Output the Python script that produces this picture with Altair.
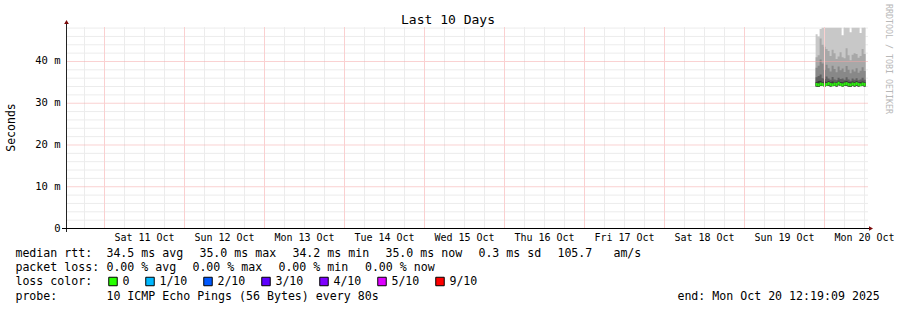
import altair as alt
import pandas as pd

# ---------------- data ----------------
T_START = "2025-10-10T12:19:09Z"
T_END = "2025-10-20T12:19:09Z"
Y_MAX = 48.14

day_dates = ["2025-10-11", "2025-10-12", "2025-10-13", "2025-10-14", "2025-10-15",
             "2025-10-16", "2025-10-17", "2025-10-18", "2025-10-19", "2025-10-20"]
day_labels = ["Sat 11 Oct", "Sun 12 Oct", "Mon 13 Oct", "Tue 14 Oct", "Wed 15 Oct",
              "Thu 16 Oct", "Fri 17 Oct", "Sat 18 Oct", "Sun 19 Oct", "Mon 20 Oct"]

y_ticks = [0, 10, 20, 30, 40]
y_tick_labels = ["0\u00a0\u00a0", "10 m", "20 m", "30 m", "40 m"]

# smoke buckets (36 min each) starting Oct 19 21:20 UTC
bucket_start = "2025-10-19T21:20:00Z"
bucket_minutes = 36
smoke_max = [46.5, 46.0, 47.8, 48.1, 48.1, 48.1, 48.1, 48.1, 48.1, 48.1, 48.1, 48.1, 48.1,
             46.3, 48.1, 48.1, 48.1, 47.0, 48.1, 48.1, 48.1, 48.1, 46.8, 48.1, 48.1]
smoke_p2 = [41.0, 41.5, 45.5, 44.0, 43.5, 43.0, 42.5, 41.3, 42.8, 42.0, 40.6, 41.2, 42.2,
            41.0, 40.8, 43.2, 41.5, 40.3, 41.6, 42.0, 41.8, 40.9, 41.3, 43.0, 41.8]
smoke_p3 = [38.5, 39.0, 40.5, 39.5, 38.0, 39.2, 38.4, 37.6, 39.0, 38.2, 37.4, 38.8, 37.9,
            38.3, 37.5, 38.9, 38.0, 37.2, 38.1, 37.6, 38.4, 37.3, 37.8, 38.6, 37.7]
smoke_p4 = [36.2, 36.5, 36.9, 36.0, 35.8, 36.4, 35.9, 35.6, 36.3, 35.7, 35.5, 36.1, 35.8,
            35.9, 35.6, 36.2, 35.7, 35.4, 35.9, 35.6, 36.0, 35.5, 35.7, 36.1, 35.6]
smoke_p5 = [35.1, 35.3, 35.4, 35.0, 35.2, 35.1, 35.3, 35.0, 35.2, 35.1, 35.0, 35.4, 35.1,
            35.0, 35.2, 35.3, 35.1, 35.0, 35.2, 35.1, 35.3, 35.0, 35.1, 35.2, 35.0]
smoke_min = [34.0, 33.9, 34.1, 34.2, 34.0, 34.1, 34.2, 34.0, 34.1, 34.2, 34.0, 34.3, 34.1,
             34.0, 34.1, 34.2, 34.0, 33.9, 34.1, 34.0, 34.2, 34.0, 34.1, 34.2, 34.0]
median_rtt = [34.5, 34.4, 34.6, 34.5, 34.4, 34.5, 34.7, 34.5, 34.4, 34.6, 34.5, 34.8, 34.5,
              34.4, 34.6, 34.7, 34.5, 34.4, 34.6, 34.5, 34.7, 34.5, 34.4, 34.6, 34.5]

# legend texts
row_texts = [
    ["median rtt:", "34.5 ms avg", "35.0 ms max", "34.2 ms min", "35.0 ms now",
     "0.3 ms sd", "105.7", "am/s"],
    ["packet loss:", "0.00 % avg", "0.00 % max", "0.00 % min", "0.00 % now"],
    ["loss color:"],
    ["probe:", "10 ICMP Echo Pings (56 Bytes) every 80s", "end: Mon Oct 20 12:19:09 2025"],
]
loss_labels = ["0", "1/10", "2/10", "3/10", "4/10", "5/10", "9/10"]
loss_colors = ["#26ff00", "#00b8ff", "#0059ff", "#5e00ff", "#7e00ff", "#dd00ff", "#ff0000"]

# ---------------- layout (pixels) ----------------
OX, OY = 66, 27
W, H = 800, 202
row_x = [
    [16, 107, 200, 293, 386, 479, 558, 614],
    [16, 107, 193, 279, 365.5],
    [16],
    [16, 107, 678],
]
row_y = [254, 268, 282, 296.5]
loss_box_x = [108, 145, 203, 261, 319, 377, 435]
loss_text_x = [123, 160, 218, 276, 334, 392, 450]

MONO = "DejaVu Sans Mono"

xscale = alt.Scale(type="utc", domain=[T_START, T_END], range=[-0.44, 799.56], nice=False)
yscale = alt.Scale(domain=[0, Y_MAX], range=[201.5, 0.5], nice=False)

# ---------------- smoke ----------------
times = pd.date_range(bucket_start, periods=len(median_rtt), freq=f"{bucket_minutes}min")
smoke = pd.DataFrame({
    "t0": times.strftime("%Y-%m-%dT%H:%M:%SZ"),
    "t1": (times + pd.Timedelta(minutes=bucket_minutes)).strftime("%Y-%m-%dT%H:%M:%SZ"),
    "mx": smoke_max, "p2": smoke_p2, "p3": smoke_p3, "p4": smoke_p4, "p5": smoke_p5,
    "mn": smoke_min, "med": median_rtt,
})
smoke["mlo"] = smoke["med"] - 0.36
smoke["mhi"] = smoke["med"] + 0.36
# step areas need a closing point at the end of the last bucket
last = smoke.iloc[[-1]].copy()
last["t0"] = last["t1"]
smoke_steps = pd.concat([smoke, last], ignore_index=True)

def band(top, color):
    return alt.Chart(smoke_steps).mark_area(
        color=color, interpolate="step-after", clip=True, opacity=1).encode(
        x=alt.X("t0:T", scale=xscale, axis=None),
        y=alt.Y("mn:Q", scale=yscale, axis=None),
        y2=f"{top}:Q",
    )

smoke_layers = [
    band("mx", "#c8c8c8"),
    band("p2", "#a8a8a8"),
    band("p3", "#888888"),
    band("p4", "#606060"),
    band("p5", "#383838"),
]
median_layer = alt.Chart(smoke).mark_rect(color="#2cf00e", clip=True).encode(
    x=alt.X("t0:T", scale=xscale, axis=None),
    x2="t1:T",
    y=alt.Y("mlo:Q", scale=yscale, axis=None),
    y2="mhi:Q",
)

# ---------------- grid ----------------
six_h = pd.date_range("2025-10-10T18:00:00Z", "2025-10-20T12:00:00Z", freq="6h")
minor_v = pd.DataFrame({"t": [t.strftime("%Y-%m-%dT%H:%M:%SZ") for t in six_h if t.hour != 0]})
major_v = pd.DataFrame({"t": [d + "T00:00:00Z" for d in day_dates]})
minor_h = pd.DataFrame({"v": [v for v in range(2, 49, 2) if v % 10 != 0]})
major_h = pd.DataFrame({"v": [10, 20, 30, 40]})

def vgrid(df, color):
    # solid light line approximates the dotted rrdtool grid
    return alt.Chart(df).mark_rule(color=color, strokeWidth=1).encode(
        x=alt.X("t:T", scale=xscale, axis=None),
        y=alt.value(0), y2=alt.value(201.5),
    )

def hgrid(df, color):
    return alt.Chart(df).mark_rule(color=color, strokeDash=[1, 1], strokeWidth=1).encode(
        y=alt.Y("v:Q", scale=yscale, axis=None),
        x=alt.value(0.5), x2=alt.value(802),
    )

minor_grid = [hgrid(minor_h, "#d8d8d8"), vgrid(minor_v, "#ececec")]
major_grid = [hgrid(major_h, "#f4a4a4"), vgrid(major_v, "#fad0d0")]

# ---------------- axes ----------------
axis_lines = [
    alt.Chart(pd.DataFrame({"a": [0]})).mark_rule(color="#222222", strokeWidth=1).encode(
        x=alt.value(0.5), y=alt.value(-3), y2=alt.value(205)),
    alt.Chart(pd.DataFrame({"a": [0]})).mark_rule(color="#000000", strokeWidth=1).encode(
        x=alt.value(-4), x2=alt.value(803), y=alt.value(201.5)),
    alt.Chart(pd.DataFrame({"a": [0]})).mark_point(
        shape="triangle-up", filled=True, color="#7a0a0a", size=22, opacity=1).encode(
        x=alt.value(0.5), y=alt.value(-5)),
    alt.Chart(pd.DataFrame({"a": [0]})).mark_point(
        shape="triangle-right", filled=True, color="#7a0a0a", size=22, opacity=1).encode(
        x=alt.value(805), y=alt.value(201.5)),
]

xlab = pd.DataFrame({"t": [d + "T12:00:00Z" for d in day_dates], "lab": day_labels})
x_labels = alt.Chart(xlab).mark_text(font=MONO, fontSize=10, color="#000000",
                                     align="center", baseline="middle").encode(
    x=alt.X("t:T", scale=xscale, axis=None),
    y=alt.value(237.5 - OY),
    text="lab:N",
)
ylab = pd.DataFrame({"v": y_ticks, "lab": y_tick_labels})
y_labels = alt.Chart(ylab).mark_text(font=MONO, fontSize=10.5, color="#000000",
                                     align="right", baseline="middle").encode(
    y=alt.Y("v:Q", scale=yscale, axis=None),
    x=alt.value(60.5 - OX),
    text="lab:N",
)

# ---------------- titles ----------------
def label(txt, x, y, size, color="#000000", angle=0, align="center", font=MONO):
    return alt.Chart(pd.DataFrame({"s": [txt]})).mark_text(
        font=font, fontSize=size, color=color, angle=angle, align=align,
        baseline="middle").encode(x=alt.value(x - OX), y=alt.value(y - OY), text="s:N")

title = label("Last 10 Days", 448, 19.5, 13)
ytitle = label("Seconds", 11.5, 127.5, 11.5, angle=270)
credit = label("RRDTOOL / TOBI OETIKER", 887.5, 4, 8.3, color="#b8b8b8", angle=90, align="left")

# ---------------- legend rows ----------------
recs = []
for texts, xs, y in zip(row_texts, row_x, row_y):
    for t, x in zip(texts, xs):
        recs.append({"s": t, "px": x - 0.6 - OX, "py": y - OY})
for t, x in zip(loss_labels, loss_text_x):
    recs.append({"s": t, "px": x - 0.6 - OX, "py": row_y[2] - OY})
legend_text = alt.Chart(pd.DataFrame(recs)).mark_text(
    font=MONO, fontSize=11.6, color="#000000", align="left", baseline="middle").encode(
    x=alt.X("px:Q", scale=None), y=alt.Y("py:Q", scale=None), text="s:N")

boxes = pd.DataFrame({"lab": loss_labels, "col": loss_colors,
                      "px": [x + 5 - OX for x in loss_box_x],
                      "py": [281.5 - OY] * len(loss_labels)})
legend_boxes = alt.Chart(boxes).mark_square(size=72, stroke="#000000", strokeWidth=1,
                                            opacity=1).encode(
    x=alt.X("px:Q", scale=None), y=alt.Y("py:Q", scale=None),
    fill=alt.Fill("col:N", scale=None),
)

chart = alt.layer(
    *minor_grid, *smoke_layers, median_layer, *major_grid, *axis_lines,
    x_labels, y_labels, title, ytitle, credit, legend_text, legend_boxes,
).properties(
    width=W, height=H,
    autosize=alt.AutoSizeParams(type="none"),
    padding={"left": OX, "top": OY, "right": 897 - OX - W, "bottom": 310 - OY - H},
    background="#ffffff",
).configure_view(stroke=None)

chart.save("out.html", embed_options={"renderer": "svg", "actions": False})
